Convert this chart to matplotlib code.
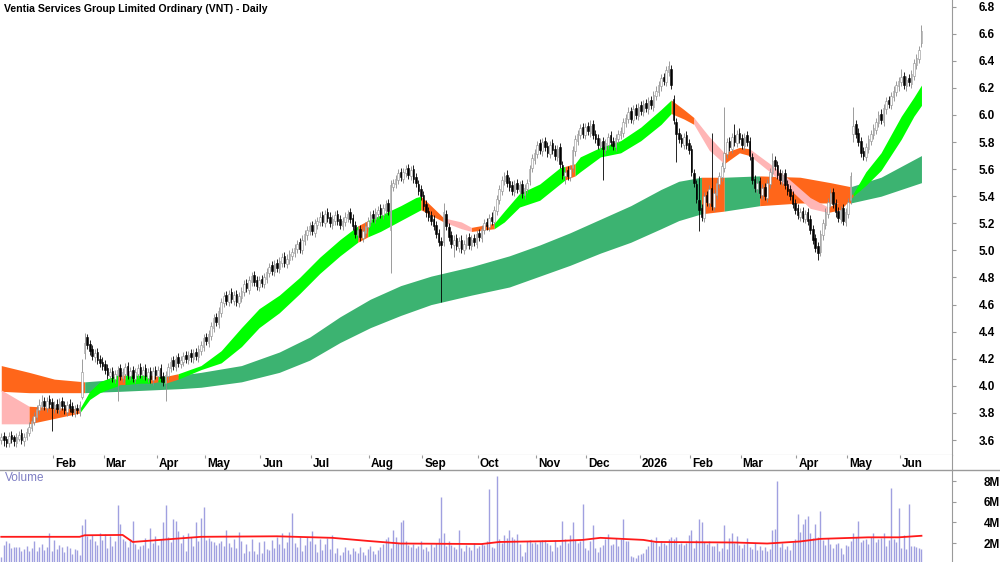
import numpy as np
import pandas as pd
import matplotlib
matplotlib.use("Agg")
import matplotlib.pyplot as plt
from matplotlib.lines import Line2D

plt.rcParams["font.family"] = ["Liberation Sans", "DejaVu Sans"]

# ---- values ----
title = "Ventia Services Group Limited Ordinary (VNT) - Daily"
first_day = "2025-01-02"
asx_holidays = ["2025-01-27", "2025-04-18", "2025-04-21", "2025-04-25", "2025-06-09",
                "2025-12-25", "2025-12-26", "2026-01-01", "2026-01-26", "2026-04-03",
                "2026-04-06", "2026-06-08"]

opens = [
    3.60, 3.63, 3.61, 3.58, 3.64, 3.62, 3.58, 3.61, 3.65, 3.59,
    3.62, 3.65, 3.69, 3.73, 3.77, 3.82, 3.85, 3.89, 3.84, 3.90,
    3.88, 3.83, 3.87, 3.82, 3.89, 3.86, 3.81, 3.87, 3.85, 3.80,
    3.84, 3.81, 3.92, 4.24, 4.36, 4.31, 4.27, 4.21, 4.25, 4.20,
    4.18, 4.16, 4.13, 4.07, 4.11, 4.05, 4.08, 4.13, 4.06, 4.09,
    4.15, 4.07, 4.12, 4.05, 4.09, 4.14, 4.08, 4.13, 4.06, 4.11,
    4.04, 4.12, 4.07, 4.13, 4.07, 4.02, 4.07, 4.13, 4.19, 4.14,
    4.21, 4.16, 4.18, 4.23, 4.19, 4.24, 4.20, 4.25, 4.21, 4.26,
    4.29, 4.36, 4.32, 4.37, 4.43, 4.51, 4.46, 4.54, 4.61, 4.67,
    4.62, 4.69, 4.63, 4.68, 4.61, 4.65, 4.69, 4.76, 4.71, 4.77,
    4.82, 4.78, 4.73, 4.79, 4.75, 4.79, 4.83, 4.89, 4.84, 4.91,
    4.86, 4.91, 4.96, 4.90, 4.93, 4.96, 4.98, 5.01, 5.06, 5.00,
    5.07, 5.11, 5.14, 5.19, 5.13, 5.19, 5.21, 5.26, 5.20, 5.28,
    5.25, 5.19, 5.22, 5.27, 5.23, 5.18, 5.21, 5.24, 5.28, 5.24,
    5.19, 5.11, 5.16, 5.09, 5.13, 5.17, 5.21, 5.27, 5.23, 5.27,
    5.31, 5.26, 5.30, 5.35, 5.15, 5.47, 5.49, 5.52, 5.58, 5.53,
    5.57, 5.61, 5.55, 5.60, 5.54, 5.49, 5.45, 5.41, 5.34, 5.29,
    5.26, 5.23, 5.19, 5.13, 5.07, 5.06, 5.27, 5.17, 5.11, 5.04,
    5.09, 5.02, 5.08, 5.00, 5.04, 5.10, 5.03, 5.09, 5.05, 5.13,
    5.09, 5.15, 5.21, 5.17, 5.25, 5.21, 5.29, 5.37, 5.44, 5.51,
    5.56, 5.51, 5.48, 5.43, 5.50, 5.44, 5.49, 5.41, 5.45, 5.51,
    5.61, 5.67, 5.71, 5.79, 5.73, 5.81, 5.77, 5.71, 5.79, 5.75,
    5.69, 5.76, 5.63, 5.55, 5.59, 5.54, 5.61, 5.73, 5.81, 5.85,
    5.91, 5.85, 5.92, 5.87, 5.93, 5.86, 5.83, 5.77, 5.81, 5.74,
    5.78, 5.85, 5.81, 5.76, 5.82, 5.85, 5.87, 5.94, 5.97, 6.03,
    5.96, 6.05, 5.99, 6.07, 6.02, 6.09, 6.04, 6.11, 6.06, 6.14,
    6.17, 6.21, 6.28, 6.24, 6.32, 6.34, 6.12, 5.95, 5.87, 5.83,
    5.78, 5.85, 5.79, 5.75, 5.57, 5.49, 5.37, 5.31, 5.24, 5.41,
    5.35, 5.46, 5.32, 5.41, 5.49, 5.54, 5.61, 5.71, 5.81, 5.75,
    5.85, 5.79, 5.87, 5.83, 5.77, 5.85, 5.81, 5.69, 5.53, 5.45,
    5.51, 5.41, 5.47, 5.39, 5.49, 5.57, 5.67, 5.63, 5.57, 5.51,
    5.57, 5.49, 5.45, 5.41, 5.35, 5.31, 5.25, 5.29, 5.23, 5.28,
    5.23, 5.16, 5.09, 5.03, 4.99, 5.11, 5.19, 5.27, 5.35, 5.43,
    5.35, 5.29, 5.23, 5.31, 5.21, 5.27, 5.37, 5.86, 5.93, 5.87,
    5.81, 5.73, 5.69, 5.75, 5.81, 5.85, 5.89, 5.94, 6.01, 5.95,
    6.04, 6.11, 6.07, 6.13, 6.17, 6.21, 6.24, 6.29, 6.21, 6.27,
    6.23, 6.29, 6.37, 6.41, 6.53]

highs = [
    3.65, 3.66, 3.63, 3.66, 3.67, 3.64, 3.65, 3.67, 3.68, 3.65,
    3.69, 3.73, 3.77, 3.81, 3.86, 3.90, 3.93, 3.92, 3.92, 3.93,
    3.91, 3.89, 3.90, 3.91, 3.92, 3.89, 3.89, 3.90, 3.88, 3.86,
    3.87, 3.89, 4.20, 4.39, 4.38, 4.34, 4.30, 4.27, 4.28, 4.23,
    4.21, 4.19, 4.16, 4.13, 4.14, 4.12, 4.15, 4.16, 4.13, 4.17,
    4.18, 4.14, 4.15, 4.13, 4.16, 4.17, 4.15, 4.16, 4.13, 4.14,
    4.14, 4.15, 4.15, 4.16, 4.10, 4.11, 4.17, 4.21, 4.22, 4.23,
    4.24, 4.22, 4.25, 4.26, 4.26, 4.27, 4.27, 4.28, 4.30, 4.33,
    4.38, 4.39, 4.41, 4.47, 4.53, 4.54, 4.58, 4.65, 4.69, 4.70,
    4.71, 4.72, 4.70, 4.71, 4.69, 4.73, 4.78, 4.79, 4.81, 4.84,
    4.85, 4.81, 4.81, 4.82, 4.83, 4.87, 4.91, 4.92, 4.93, 4.94,
    4.95, 4.98, 4.99, 4.97, 5.00, 5.02, 5.05, 5.08, 5.09, 5.11,
    5.15, 5.18, 5.21, 5.22, 5.23, 5.25, 5.28, 5.29, 5.30, 5.31,
    5.28, 5.26, 5.29, 5.30, 5.26, 5.25, 5.28, 5.30, 5.31, 5.27,
    5.22, 5.18, 5.19, 5.17, 5.21, 5.25, 5.29, 5.30, 5.31, 5.33,
    5.34, 5.34, 5.37, 5.38, 5.52, 5.53, 5.56, 5.60, 5.61, 5.61,
    5.63, 5.64, 5.62, 5.63, 5.57, 5.52, 5.48, 5.44, 5.37, 5.32,
    5.29, 5.26, 5.22, 5.16, 5.10, 5.35, 5.30, 5.20, 5.14, 5.11,
    5.12, 5.10, 5.11, 5.08, 5.12, 5.13, 5.11, 5.12, 5.15, 5.16,
    5.19, 5.23, 5.24, 5.27, 5.28, 5.33, 5.41, 5.48, 5.55, 5.58,
    5.59, 5.54, 5.51, 5.52, 5.53, 5.51, 5.52, 5.49, 5.53, 5.63,
    5.71, 5.75, 5.81, 5.82, 5.83, 5.84, 5.80, 5.81, 5.82, 5.78,
    5.78, 5.79, 5.66, 5.61, 5.62, 5.63, 5.77, 5.85, 5.89, 5.93,
    5.94, 5.94, 5.95, 5.96, 5.96, 5.89, 5.86, 5.83, 5.84, 5.82,
    5.87, 5.88, 5.84, 5.86, 5.89, 5.91, 5.98, 6.01, 6.06, 6.06,
    6.07, 6.08, 6.09, 6.10, 6.11, 6.12, 6.13, 6.14, 6.18, 6.21,
    6.25, 6.30, 6.31, 6.36, 6.40, 6.37, 6.15, 5.98, 5.90, 5.86,
    5.87, 5.88, 5.82, 5.78, 5.60, 5.52, 5.55, 5.34, 5.43, 5.44,
    5.48, 5.87, 5.45, 5.53, 5.58, 5.65, 6.06, 5.83, 5.84, 5.87,
    5.93, 5.89, 5.90, 5.86, 5.87, 5.88, 5.84, 5.72, 5.56, 5.53,
    5.54, 5.49, 5.50, 5.53, 5.61, 5.72, 5.70, 5.66, 5.60, 5.59,
    5.60, 5.52, 5.48, 5.44, 5.38, 5.34, 5.31, 5.32, 5.30, 5.31,
    5.26, 5.19, 5.12, 5.06, 5.15, 5.23, 5.31, 5.39, 5.46, 5.46,
    5.38, 5.32, 5.33, 5.34, 5.31, 5.39, 5.58, 6.06, 5.96, 5.90,
    5.84, 5.76, 5.79, 5.85, 5.89, 5.93, 5.98, 6.03, 6.04, 6.08,
    6.13, 6.14, 6.17, 6.21, 6.25, 6.28, 6.34, 6.32, 6.29, 6.30,
    6.33, 6.41, 6.45, 6.51, 6.66]

lows = [
    3.57, 3.56, 3.55, 3.55, 3.58, 3.56, 3.55, 3.59, 3.57, 3.56,
    3.60, 3.63, 3.67, 3.71, 3.75, 3.79, 3.82, 3.82, 3.81, 3.84,
    3.67, 3.80, 3.80, 3.79, 3.82, 3.79, 3.78, 3.81, 3.78, 3.77,
    3.79, 3.78, 3.90, 4.20, 4.27, 4.23, 4.19, 4.18, 4.16, 4.14,
    4.12, 4.09, 4.05, 4.04, 4.03, 4.02, 3.89, 4.04, 4.03, 4.06,
    4.05, 4.04, 4.03, 4.02, 4.06, 4.06, 4.05, 4.04, 4.03, 4.02,
    4.01, 4.05, 4.04, 4.03, 4.00, 3.89, 4.04, 4.10, 4.12, 4.11,
    4.14, 4.13, 4.15, 4.17, 4.16, 4.18, 4.17, 4.19, 4.18, 4.23,
    4.26, 4.30, 4.29, 4.34, 4.40, 4.44, 4.43, 4.51, 4.58, 4.60,
    4.59, 4.61, 4.60, 4.59, 4.58, 4.62, 4.66, 4.69, 4.68, 4.74,
    4.74, 4.71, 4.70, 4.73, 4.72, 4.76, 4.80, 4.82, 4.81, 4.84,
    4.83, 4.88, 4.88, 4.87, 4.90, 4.93, 4.95, 4.98, 4.98, 4.97,
    5.04, 5.08, 5.11, 5.11, 5.10, 5.16, 5.18, 5.18, 5.17, 5.21,
    5.17, 5.16, 5.19, 5.19, 5.16, 5.15, 5.18, 5.21, 5.20, 5.15,
    5.09, 5.08, 5.07, 5.06, 5.10, 5.14, 5.18, 5.21, 5.20, 5.24,
    5.24, 5.23, 5.27, 5.26, 4.83, 5.44, 5.46, 5.49, 5.51, 5.50,
    5.54, 5.53, 5.52, 5.50, 5.47, 5.41, 5.37, 5.30, 5.25, 5.22,
    5.19, 5.15, 5.09, 5.03, 4.62, 5.03, 5.15, 5.07, 5.02, 4.95,
    5.00, 4.99, 4.98, 4.97, 5.01, 5.01, 5.00, 5.03, 5.02, 5.07,
    5.06, 5.12, 5.15, 5.14, 5.19, 5.18, 5.26, 5.34, 5.41, 5.48,
    5.47, 5.44, 5.41, 5.40, 5.42, 5.41, 5.39, 5.38, 5.42, 5.48,
    5.58, 5.64, 5.68, 5.71, 5.70, 5.73, 5.69, 5.68, 5.71, 5.67,
    5.66, 5.61, 5.53, 5.49, 5.52, 5.51, 5.58, 5.70, 5.78, 5.82,
    5.83, 5.82, 5.85, 5.84, 5.82, 5.79, 5.75, 5.74, 5.52, 5.71,
    5.75, 5.77, 5.74, 5.73, 5.79, 5.82, 5.84, 5.91, 5.94, 5.94,
    5.93, 5.97, 5.96, 6.00, 5.99, 6.02, 6.01, 6.04, 6.03, 6.11,
    6.14, 6.18, 6.22, 6.21, 6.29, 6.19, 5.93, 5.65, 5.79, 5.76,
    5.75, 5.75, 5.71, 5.55, 5.47, 5.35, 5.14, 5.22, 5.21, 5.33,
    5.32, 5.30, 5.29, 5.38, 5.46, 5.51, 5.58, 5.68, 5.73, 5.72,
    5.77, 5.76, 5.79, 5.75, 5.74, 5.77, 5.67, 5.49, 5.43, 5.42,
    5.39, 5.38, 5.37, 5.36, 5.46, 5.54, 5.59, 5.53, 5.49, 5.48,
    5.45, 5.41, 5.37, 5.31, 5.27, 5.23, 5.22, 5.21, 5.20, 5.19,
    5.12, 5.05, 4.99, 4.93, 4.96, 5.08, 5.16, 5.24, 5.32, 5.31,
    5.25, 5.21, 5.20, 5.19, 5.18, 5.24, 5.34, 5.80, 5.83, 5.77,
    5.69, 5.67, 5.66, 5.72, 5.78, 5.82, 5.86, 5.91, 5.93, 5.92,
    6.01, 6.05, 6.04, 6.10, 6.14, 6.18, 6.21, 6.19, 6.18, 6.21,
    6.20, 6.26, 6.34, 6.38, 6.50]

closes = [
    3.62, 3.60, 3.58, 3.63, 3.61, 3.59, 3.62, 3.64, 3.60, 3.62,
    3.66, 3.70, 3.74, 3.78, 3.83, 3.86, 3.88, 3.85, 3.89, 3.87,
    3.84, 3.86, 3.83, 3.88, 3.85, 3.82, 3.86, 3.84, 3.81, 3.83,
    3.82, 3.86, 4.10, 4.32, 4.30, 4.26, 4.22, 4.24, 4.19, 4.17,
    4.15, 4.12, 4.08, 4.10, 4.06, 4.09, 4.12, 4.07, 4.10, 4.14,
    4.08, 4.11, 4.06, 4.10, 4.13, 4.09, 4.12, 4.07, 4.10, 4.05,
    4.11, 4.08, 4.12, 4.06, 4.03, 4.08, 4.14, 4.18, 4.15, 4.20,
    4.17, 4.19, 4.22, 4.20, 4.23, 4.21, 4.24, 4.22, 4.27, 4.30,
    4.35, 4.33, 4.38, 4.44, 4.50, 4.47, 4.55, 4.62, 4.66, 4.63,
    4.68, 4.64, 4.67, 4.62, 4.66, 4.70, 4.75, 4.72, 4.78, 4.81,
    4.77, 4.74, 4.78, 4.76, 4.80, 4.84, 4.88, 4.85, 4.90, 4.87,
    4.92, 4.95, 4.91, 4.94, 4.97, 4.99, 5.02, 5.05, 5.01, 5.08,
    5.12, 5.15, 5.18, 5.14, 5.20, 5.22, 5.25, 5.21, 5.27, 5.24,
    5.20, 5.23, 5.26, 5.22, 5.19, 5.22, 5.25, 5.27, 5.23, 5.18,
    5.12, 5.15, 5.10, 5.14, 5.18, 5.22, 5.26, 5.24, 5.28, 5.30,
    5.27, 5.31, 5.34, 5.29, 5.48, 5.50, 5.53, 5.57, 5.54, 5.58,
    5.60, 5.56, 5.59, 5.53, 5.50, 5.44, 5.40, 5.33, 5.28, 5.25,
    5.22, 5.18, 5.12, 5.06, 5.04, 5.28, 5.18, 5.10, 5.05, 5.08,
    5.03, 5.07, 5.01, 5.05, 5.09, 5.04, 5.08, 5.06, 5.12, 5.10,
    5.16, 5.20, 5.18, 5.24, 5.22, 5.30, 5.38, 5.45, 5.52, 5.55,
    5.50, 5.47, 5.44, 5.49, 5.45, 5.48, 5.42, 5.46, 5.50, 5.60,
    5.68, 5.72, 5.78, 5.74, 5.80, 5.76, 5.72, 5.78, 5.74, 5.70,
    5.75, 5.64, 5.56, 5.58, 5.55, 5.60, 5.74, 5.82, 5.86, 5.90,
    5.86, 5.91, 5.88, 5.92, 5.85, 5.82, 5.78, 5.80, 5.75, 5.79,
    5.84, 5.80, 5.77, 5.83, 5.86, 5.88, 5.95, 5.98, 6.02, 5.97,
    6.04, 6.00, 6.06, 6.03, 6.08, 6.05, 6.10, 6.07, 6.15, 6.18,
    6.22, 6.27, 6.25, 6.33, 6.36, 6.22, 5.96, 5.86, 5.82, 5.79,
    5.84, 5.78, 5.74, 5.58, 5.50, 5.38, 5.30, 5.25, 5.40, 5.36,
    5.45, 5.33, 5.42, 5.50, 5.55, 5.62, 5.72, 5.80, 5.76, 5.84,
    5.80, 5.86, 5.82, 5.78, 5.84, 5.80, 5.70, 5.52, 5.46, 5.50,
    5.42, 5.46, 5.40, 5.50, 5.58, 5.66, 5.62, 5.56, 5.52, 5.56,
    5.48, 5.44, 5.40, 5.34, 5.30, 5.26, 5.28, 5.24, 5.27, 5.22,
    5.15, 5.08, 5.02, 4.98, 5.12, 5.20, 5.28, 5.36, 5.42, 5.34,
    5.28, 5.24, 5.30, 5.22, 5.28, 5.36, 5.55, 5.92, 5.86, 5.80,
    5.72, 5.70, 5.76, 5.82, 5.86, 5.90, 5.95, 6.00, 5.96, 6.05,
    6.10, 6.08, 6.14, 6.18, 6.22, 6.25, 6.28, 6.22, 6.26, 6.24,
    6.30, 6.38, 6.42, 6.48, 6.62]

# volume in millions of shares
volume_m = [
    0.6, 1.8, 2.2, 2.0, 1.5, 1.6, 1.6, 1.6, 1.2, 1.4,
    1.7, 1.2, 1.5, 2.2, 1.2, 1.6, 1.9, 1.3, 1.6, 3.0,
    1.2, 2.3, 1.4, 1.8, 1.6, 1.1, 1.7, 1.5, 0.9, 1.4,
    1.3, 0.8, 3.7, 4.3, 2.7, 2.4, 2.8, 2.2, 1.8, 3.0,
    2.3, 2.9, 1.5, 2.7, 1.7, 2.2, 5.7, 3.8, 2.4, 2.2,
    1.6, 2.4, 4.1, 1.9, 1.4, 1.7, 1.8, 2.5, 1.5, 3.5,
    2.0, 2.7, 1.8, 2.4, 4.0, 5.7, 2.6, 2.1, 4.3, 4.1,
    3.2, 2.0, 2.8, 1.2, 3.0, 2.6, 1.7, 4.0, 2.2, 4.4,
    5.5, 2.3, 2.5, 2.2, 2.1, 1.8, 2.0, 2.2, 1.7, 3.3,
    2.0, 1.6, 2.4, 1.5, 3.1, 2.2, 1.0, 1.9, 1.2, 2.4,
    1.2, 0.9, 2.1, 1.0, 2.2, 1.4, 1.3, 2.3, 1.5, 2.6,
    1.9, 3.0, 1.5, 2.1, 3.1, 4.9, 2.0, 1.6, 2.6, 1.2,
    1.8, 2.6, 2.2, 3.2, 1.9, 1.1, 2.4, 1.3, 1.9, 2.5,
    1.4, 2.8, 1.0, 1.5, 0.8, 1.1, 1.6, 1.3, 0.9, 1.5,
    1.2, 1.0, 1.6, 1.1, 0.8, 1.4, 1.7, 1.2, 0.9, 1.3,
    1.6, 1.9, 2.4, 2.6, 1.5, 3.3, 2.6, 2.0, 4.0, 4.2,
    2.2, 1.8, 1.6, 1.9, 1.5, 1.7, 2.2, 1.4, 1.6, 1.2,
    1.9, 1.6, 2.0, 2.5, 6.5, 3.0, 1.7, 2.2, 1.8, 1.6,
    1.4, 3.3, 1.5, 1.2, 1.8, 1.6, 1.3, 2.0, 1.5, 1.7,
    2.0, 1.8, 2.2, 7.2, 1.6, 1.5, 8.5, 2.4, 2.0, 2.8,
    2.5, 3.3, 2.6, 2.4, 2.9, 1.9, 0.7, 1.1, 2.2, 2.3,
    2.0, 2.1, 1.9, 2.2, 2.3, 2.3, 2.0, 1.8, 1.2, 2.3,
    1.6, 1.8, 4.1, 2.4, 2.0, 2.8, 4.0, 2.3, 2.0, 2.2,
    5.8, 1.5, 1.3, 2.2, 3.7, 1.5, 1.1, 1.6, 1.8, 2.4,
    2.9, 1.8, 1.9, 2.5, 1.7, 2.4, 4.3, 2.2, 2.2, 0.7,
    0.6, 0.5, 0.8, 0.9, 1.0, 1.4, 1.7, 2.4, 2.1, 2.6,
    1.7, 2.2, 2.0, 1.8, 2.4, 2.6, 2.4, 2.6, 1.9, 2.0,
    1.8, 2.0, 2.8, 3.3, 1.5, 2.3, 4.3, 4.0, 2.1, 1.9,
    2.2, 1.7, 1.7, 2.0, 1.2, 1.5, 3.7, 1.4, 2.5, 3.0,
    2.0, 2.7, 1.8, 1.5, 1.9, 2.5, 1.6, 1.4, 2.0, 1.3,
    1.7, 1.3, 1.6, 1.2, 1.4, 3.3, 3.4, 8.0, 1.6, 2.0,
    1.4, 1.7, 1.3, 2.1, 2.4, 4.8, 3.1, 3.8, 4.3, 4.6,
    3.0, 2.5, 3.8, 2.6, 5.1, 2.3, 1.8, 2.5, 1.9, 1.5,
    1.9, 2.0, 1.5, 0.9, 1.8, 1.7, 2.2, 3.0, 2.6, 4.1,
    2.1, 2.3, 2.4, 1.9, 2.6, 3.0, 2.1, 2.4, 2.5, 3.0,
    1.7, 2.3, 7.3, 2.4, 2.1, 5.4, 1.5, 2.8, 1.4, 5.8,
    1.7, 1.7, 1.6, 1.5, 1.4]

# volume moving average (red line), read at a few bars
vol_ma_bar = [0, 31, 33, 48, 52, 79, 109, 131, 145, 158, 190, 197, 221, 230, 237,
              254, 259, 290, 303, 316, 324, 343, 355, 364]
vol_ma_val = [2.6, 2.6, 2.75, 2.78, 2.1, 2.6, 2.65, 2.5, 2.2, 1.95, 1.9, 2.1, 2.2, 2.3, 2.5,
              2.3, 2.1, 2.05, 1.95, 2.15, 2.4, 2.55, 2.55, 2.7]

# short-term ribbon edges (bar, top, bottom) and colour runs
short_bar = [0, 11, 21, 31, 35, 39, 43, 46, 47, 49, 55, 59, 62, 63, 65, 70, 79, 87, 95, 102,
             110, 118, 126, 134, 141, 145, 150, 158, 164, 166, 170, 175, 182, 186, 195, 199,
             205, 213, 221, 223, 227, 229, 237, 245, 253, 261, 265, 270, 274, 280, 286, 292,
             296, 304, 312, 320, 327, 332, 337, 342, 348, 356, 361, 364]
short_top = [3.97, 3.85, 3.84, 3.83, 3.96, 4.03, 4.06, 4.08, 4.08, 4.08, 4.08, 4.08, 4.07, 4.07,
             4.07, 4.09, 4.15, 4.26, 4.43, 4.57, 4.67, 4.80, 4.95, 5.08, 5.18, 5.22, 5.26, 5.33,
             5.39, 5.40, 5.33, 5.24, 5.21, 5.17, 5.20, 5.29, 5.42, 5.49, 5.61, 5.62, 5.64, 5.69,
             5.76, 5.81, 5.91, 6.04, 6.11, 6.04, 5.98, 5.84, 5.72, 5.76, 5.75, 5.64, 5.52, 5.39,
             5.32, 5.36, 5.42, 5.58, 5.72, 5.99, 6.13, 6.22]
short_bot = [3.72, 3.72, 3.76, 3.80, 3.90, 3.95, 3.98, 4.00, 4.01, 4.01, 4.02, 4.02, 4.03, 4.03,
             4.02, 4.05, 4.12, 4.17, 4.29, 4.43, 4.54, 4.68, 4.83, 4.96, 5.06, 5.10, 5.14, 5.22,
             5.28, 5.30, 5.26, 5.21, 5.16, 5.14, 5.16, 5.21, 5.32, 5.37, 5.49, 5.52, 5.55, 5.58,
             5.69, 5.72, 5.81, 5.93, 6.01, 5.97, 5.93, 5.74, 5.64, 5.72, 5.70, 5.58, 5.45, 5.31,
             5.28, 5.30, 5.40, 5.48, 5.59, 5.82, 5.99, 6.07]
short_runs = [(0, 11, "pink"), (11, 31, "orange"), (31, 46, "green"), (46, 49, "orange"),
              (49, 59, "green"), (59, 62, "orange"), (62, 65, "green"), (65, 70, "orange"),
              (70, 141, "green"), (141, 145, "orange"), (145, 166, "green"), (166, 175, "orange"),
              (175, 186, "pink"), (186, 195, "orange"), (195, 223, "green"), (223, 227, "orange"),
              (227, 265, "green"), (265, 274, "orange"), (274, 286, "pink"), (286, 296, "orange"),
              (296, 327, "pink"), (327, 337, "orange"), (337, 364, "green")]

# long-term ribbon
long_bar = [0, 11, 21, 33, 47, 59, 71, 79, 95, 110, 122, 134, 146, 158, 170, 186, 201, 213,
            225, 237, 249, 261, 268, 277, 286, 300, 316, 328, 336, 348, 364]
long_top = [4.15, 4.10, 4.05, 4.03, 4.05, 4.06, 4.08, 4.10, 4.15, 4.25, 4.36, 4.51, 4.64, 4.74,
            4.81, 4.88, 4.96, 5.04, 5.13, 5.23, 5.33, 5.45, 5.51, 5.54, 5.54, 5.55, 5.54, 5.50,
            5.47, 5.54, 5.70]
long_bot = [3.96, 3.95, 3.95, 3.95, 3.96, 3.97, 3.98, 3.99, 4.03, 4.10, 4.19, 4.32, 4.43, 4.52,
            4.60, 4.67, 4.73, 4.81, 4.89, 4.98, 5.06, 5.16, 5.22, 5.27, 5.29, 5.33, 5.35, 5.35,
            5.35, 5.40, 5.50]
long_runs = [(0, 33, "orange"), (33, 277, "dark"), (277, 286, "orange"), (286, 300, "dark"),
             (300, 336, "orange"), (336, 364, "dark")]

price_ticks = [3.6, 3.8, 4.0, 4.2, 4.4, 4.6, 4.8, 5.0, 5.2, 5.4, 5.6, 5.8, 6.0, 6.2, 6.4, 6.6, 6.8]
vol_ticks = [2, 4, 6, 8]

ribbon_colors = {"green": "#00ff00", "dark": "#3cb371", "orange": "#ff661a", "pink": "#ffb5b5"}

# ---- drawing ----
o = np.array(opens); h = np.array(highs); l = np.array(lows); c = np.array(closes)
n = len(c)
assert len(o) == len(h) == len(l) == len(volume_m) == n
dates = pd.bdate_range(first_day, periods=n, freq="C", holidays=asx_holidays)
bars = np.arange(n)

GREY = "#9a9a9a"
PX = 2.528  # pixels per bar
W = 952 / 1000
xlim = (-0.5, 952 / PX - 0.5)

fig = plt.figure(figsize=(10, 5.62), dpi=100)
ax = fig.add_axes([0, 1 - 455 / 562, W, 455 / 562])
axd = fig.add_axes([0, 1 - 470 / 562, W, 15 / 562])
axv = fig.add_axes([0, 0, W, 92 / 562])


def draw_ribbon(axis, xs, top, bot, runs, z):
    xs = np.array(xs); top = np.array(top); bot = np.array(bot)
    for a, b, name in runs:
        m = (xs >= a) & (xs <= b)
        axis.fill_between(xs[m], bot[m], top[m], color=ribbon_colors[name], lw=0, zorder=z)


draw_ribbon(ax, long_bar, long_top, long_bot, long_runs, 1)
draw_ribbon(ax, short_bar, short_top, short_bot, short_runs, 2)

# candles: hollow grey for up days, solid black for down days
up = c >= o
body_lo = np.minimum(o, c)
body_h = np.maximum(np.abs(c - o), 0.004)
for sel, face, edge in [(up, "white", "#8c8c8c"), (~up, "black", "black")]:
    ax.vlines(bars[sel], l[sel], h[sel], color=edge, lw=0.6, zorder=3)
    ax.bar(bars[sel], body_h[sel], bottom=body_lo[sel], width=0.62, color=face,
           edgecolor=edge, lw=0.4, zorder=4)

ax.set_xlim(*xlim)
ax.set_ylim(3.49, 6.848)
ax.set_yticks(price_ticks)
ax.set_yticklabels([f"{t:.1f}" for t in price_ticks])
ax.yaxis.tick_right()
ax.tick_params(axis="y", length=3, color=GREY, pad=16, labelsize=8.5)
for t in ax.get_yticklabels():
    t.set_fontweight("bold")
ax.set_xticks([])
for s in ["top", "left"]:
    ax.spines[s].set_visible(False)
for s in ["right", "bottom"]:
    ax.spines[s].set_color(GREY)

# date strip with month labels
axd.set_xlim(*xlim)
axd.set_ylim(0, 1)
axd.set_xticks([]); axd.set_yticks([])
for s in ["top", "left", "bottom"]:
    axd.spines[s].set_visible(False)
axd.spines["right"].set_color(GREY)
for i in range(1, n):
    if dates[i].month != dates[i - 1].month:
        lab = str(dates[i].year) if dates[i].month == 1 else dates[i].strftime("%b")
        axd.vlines(i - 0.5, 0.78, 1.0, color=GREY, lw=0.8)
        axd.text(i + 0.3, 0.42, lab, fontsize=8.5, fontweight="bold", va="center", ha="left")

# volume panel
axv.vlines(bars, 0, volume_m, color="#a0a0e0", lw=1.0, zorder=2)
axv.plot(vol_ma_bar, vol_ma_val, color="#ff1a1a", lw=1.3, zorder=3)
axv.set_xlim(*xlim)
axv.set_ylim(0.16, 9.07)
axv.set_yticks(vol_ticks)
axv.set_yticklabels([f"{t}M" for t in vol_ticks])
axv.yaxis.tick_right()
axv.tick_params(axis="y", length=3, color=GREY, pad=20, labelsize=8.5)
for t in axv.get_yticklabels():
    t.set_fontweight("bold")
axv.set_xticks([])
for s in ["top", "left", "bottom"]:
    axv.spines[s].set_visible(False)
axv.spines["right"].set_color(GREY)
axv.text(0.005, 0.913, "Volume", transform=axv.transAxes, color="#7f7fc4",
         fontsize=8.5, va="center", ha="left")

fig.add_artist(Line2D([0, 1], [1 - 470 / 562] * 2, color=GREY, lw=1.0))
fig.text(0.004, 1 - 9 / 562, title, fontsize=7.6, fontweight="bold", va="center", ha="left")

fig.savefig("out.png", dpi=100)
